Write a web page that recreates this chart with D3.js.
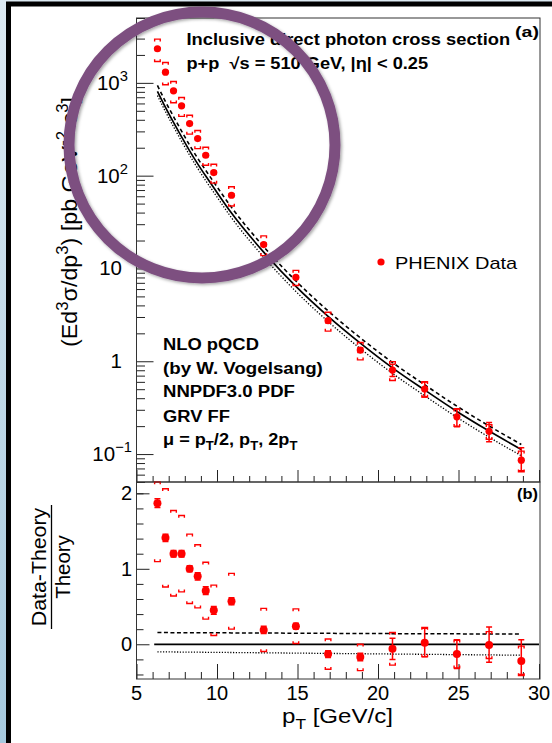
<!DOCTYPE html>
<html><head><meta charset="utf-8">
<script src="https://cdn.jsdelivr.net/npm/d3@7"></script>
<style>html,body{margin:0;padding:0;background:#fff;}svg{display:block;}</style>
</head><body>
<script>
// ---------- data ----------
const pT    = [6.3, 6.8, 7.3, 7.8, 8.3, 8.8, 9.3, 9.8, 10.9, 12.9, 14.9, 16.9, 18.9, 20.9, 22.9, 24.9, 26.9, 28.9];
const xsec  = [2330, 1305, 820, 565, 364, 251, 166, 108, 61.5, 18.1, 8.04, 2.74, 1.32, 0.805, 0.502, 0.252, 0.176, 0.086];
const ratio = [1.87, 1.41, 1.20, 1.20, 1.00, 0.90, 0.71, 0.45, 0.57, 0.19, 0.24, -0.13, -0.17, -0.06, 0.02, -0.13, -0.01, -0.22];
// relative uncertainties
const statUp = [0.02,0.02,0.02,0.02,0.02,0.025,0.03,0.035,0.03,0.04,0.03,0.05,0.06,0.15,0.19,0.22,0.24,0.36];
const statDn = [0.02,0.02,0.02,0.02,0.02,0.025,0.03,0.035,0.03,0.04,0.03,0.05,0.06,0.15,0.18,0.22,0.23,0.23];
const sysUp  = [0.27,0.27,0.26,0.23,0.23,0.22,0.22,0.23,0.235,0.24,0.185,0.23,0.205,0.23,0.20,0.21,0.18,0.25];
const sysDn  = [0.27,0.27,0.255,0.23,0.23,0.22,0.22,0.23,0.235,0.24,0.185,0.23,0.215,0.23,0.18,0.21,0.18,0.25];
// NLO pQCD theory (mu = pT central, pT/2 dashed, 2pT dotted)
const thCentral = [812, 545, 375, 262, 185, 134, 99, 74, 39.5, 15.0, 6.4, 3.05, 1.57, 0.85, 0.49, 0.288, 0.177, 0.112];
const thHigh    = [938, 629, 433, 302, 213, 154, 114, 85.2, 45.5, 17.2, 7.34, 3.49, 1.79, 0.97, 0.558, 0.328, 0.201, 0.127];
const thLow     = [731, 490, 337, 235, 166, 120, 88.5, 66.1, 35.2, 13.3, 5.65, 2.68, 1.37, 0.74, 0.425, 0.249, 0.152, 0.096];
const rHigh = [0.155,0.155,0.154,0.154,0.153,0.153,0.152,0.152,0.151,0.149,0.147,0.145,0.143,0.141,0.139,0.138,0.137,0.136];
const rLow  = [-0.100,-0.101,-0.102,-0.103,-0.104,-0.105,-0.106,-0.107,-0.109,-0.113,-0.117,-0.121,-0.125,-0.129,-0.133,-0.137,-0.141,-0.145];
const zeroLine = [6.1, 30];
// ticks
const xMajor = [5, 10, 15, 20, 25, 30];
const xMinor = d3.range(5, 31, 1);
const yTopMajor = [0.1, 1, 10, 100, 1000];
const yTopLabels = [["10", "\u22121"], ["1", ""], ["10", ""], ["10", "2"], ["10", "3"]];
const yBotMajor = [0, 1, 2];
const yBotMinor = [-0.4, -0.2, 0.2, 0.4, 0.6, 0.8, 1.2, 1.4, 1.6, 1.8, 2.0];

// ---------- layout ----------
const W = 552, H = 743;
const L = 136.5, R = 540, T1 = 18, B1 = 482, B2 = 679;
const FONT = "'Liberation Sans', Arial, Helvetica, sans-serif";
const RED = "#ff0000";

const svg = d3.select("body").append("svg").attr("width", W).attr("height", H)
  .style("font-family", FONT);

const defs = svg.append("defs");
const grad = defs.append("linearGradient").attr("id", "bg").attr("x1", 0).attr("y1", 0).attr("x2", 0).attr("y2", 1);
grad.append("stop").attr("offset", "0%").attr("stop-color", "#dce9f2");
grad.append("stop").attr("offset", "100%").attr("stop-color", "#a6c9de");
const sh = defs.append("filter").attr("id", "shadow").attr("x", "-20%").attr("y", "-20%").attr("width", "140%").attr("height", "140%");
sh.append("feDropShadow").attr("dx", 1.5).attr("dy", 1.5).attr("stdDeviation", 1.5).attr("flood-color", "#000").attr("flood-opacity", 0.35);
defs.append("clipPath").attr("id", "clipTop").append("rect").attr("x", L).attr("y", T1).attr("width", R - L).attr("height", B1 - T1);
defs.append("clipPath").attr("id", "clipBot").append("rect").attr("x", L).attr("y", B1).attr("width", R - L).attr("height", B2 - B1);

// background frame
svg.append("rect").attr("x", 0).attr("y", 0).attr("width", W).attr("height", H).attr("fill", "url(#bg)");
svg.append("rect").attr("x", 6).attr("y", 1.5).attr("width", W - 6).attr("height", H).attr("fill", "#000");
svg.append("rect").attr("x", 11).attr("y", 6.5).attr("width", W - 11).attr("height", H).attr("fill", "#fff");

// ---------- scales ----------
const x = d3.scaleLinear().domain([5, 30]).range([L, R - 1]);
const yT = d3.scaleLog().domain([0.05, 5000]).range([B1, T1]);
const yB = d3.scaleLinear().domain([-0.46, 2.15]).range([B2, B1]);

// ---------- text helpers ----------
function rich(parent, parts, size, weight, anchor) {
  const t = parent.append("text").attr("font-size", size).attr("font-weight", weight || "normal")
    .attr("text-anchor", anchor || "start").attr("fill", "#000").attr("xml:space", "preserve");
  let shift = 0;
  parts.forEach(p => {
    const s = p[0], k = p[1] || "n";
    if (!s) return;
    const target = k === "sup" ? -0.42 * size : k === "sub" ? 0.32 * size : 0;
    t.append("tspan").attr("dy", (target - shift).toFixed(2))
      .attr("font-size", k === "n" ? size : 0.72 * size).text(s);
    shift = target;
  });
  return t;
}
function place(parts, xx, yy, size, weight, anchor, width, rot) {
  const g = svg.append("g").attr("transform", `translate(${xx},${yy})` + (rot ? ` rotate(${rot})` : ""));
  const t = rich(g, parts, size, weight, anchor);
  if (width) {
    const w = t.node().getBBox().width;
    t.attr("transform", `scale(${width / w},1)`);
  }
  return t;
}

// ---------- top panel ----------
const gT = svg.append("g");
gT.append("g").attr("transform", `translate(${L},0)`)
  .call(d3.axisLeft(yT).tickValues(yTopMajor).tickSize(-17).tickFormat(""))
  .call(a => a.select(".domain").remove());
const yTopMinor = [];
[0.01, 0.1, 1, 10, 100, 1000].forEach(d => { for (let k = 2; k <= 9; k++) { const v = d * k; if (v >= 0.05 && v <= 5000) yTopMinor.push(v); } });
gT.append("g").attr("transform", `translate(${L},0)`)
  .call(d3.axisLeft(yT).tickValues(yTopMinor).tickSize(-8.5).tickFormat(""))
  .call(a => a.select(".domain").remove());
gT.append("g").attr("transform", `translate(0,${B1})`)
  .call(d3.axisBottom(x).tickValues(xMajor).tickSize(-12).tickFormat(""))
  .call(a => a.select(".domain").remove());
gT.append("g").attr("transform", `translate(0,${B1})`)
  .call(d3.axisBottom(x).tickValues(xMinor.filter(v => v % 5)).tickSize(-6).tickFormat(""))
  .call(a => a.select(".domain").remove());
gT.selectAll(".tick line").attr("stroke", "#222").attr("stroke-width", 1);

yTopMajor.forEach((v, i) => {
  const lab = yTopLabels[i];
  const parts = [[lab[0], "n"]];
  if (lab[1]) parts.push([lab[1], "sup"]);
  place(parts, lab[1] ? (lab[1].length > 1 ? 132 : 128) : 122, yT(v) + 7, 20.5, "normal", "end");
});

const line = (vals) => d3.line().x((d, i) => x(pT[i])).y(d => yT(d)).curve(d3.curveMonotoneX)(vals);
const cT = gT.append("g").attr("clip-path", "url(#clipTop)");
cT.append("path").attr("d", line(thHigh)).attr("fill", "none").attr("stroke", "#000").attr("stroke-width", 1.6).attr("stroke-dasharray", "4,3");
cT.append("path").attr("d", line(thLow)).attr("fill", "none").attr("stroke", "#000").attr("stroke-width", 1.3).attr("stroke-dasharray", "1.3,1.7");
cT.append("path").attr("d", line(thCentral)).attr("fill", "none").attr("stroke", "#000").attr("stroke-width", 1.7);

function drawPoints(g, yScale, vals, upFn, dnFn, statUpFn, statDnFn, lo, hi, r) {
  const clamp = v => Math.max(lo, Math.min(hi, v));
  vals.forEach((v, i) => {
    const cx = x(pT[i]), cy = yScale(v);
    const yu = yScale(clamp(upFn(i))), yd = yScale(clamp(dnFn(i)));
    const bw = 2.8, leg = 2.3;
    g.append("path").attr("d", `M${cx - bw},${yu + leg}V${yu}H${cx + bw}V${yu + leg}M${cx - bw},${yd - leg}V${yd}H${cx + bw}V${yd - leg}`)
      .attr("fill", "none").attr("stroke", RED).attr("stroke-width", 1.4);
    const su = yScale(clamp(statUpFn(i))), sd = yScale(clamp(statDnFn(i)));
    g.append("path").attr("d", `M${cx},${su}V${sd}M${cx - 3},${su}H${cx + 3}M${cx - 3},${sd}H${cx + 3}`)
      .attr("fill", "none").attr("stroke", RED).attr("stroke-width", 1.5);
    g.append("circle").attr("cx", cx).attr("cy", cy).attr("r", r).attr("fill", RED);
  });
}
const pTg = gT.append("g");
drawPoints(pTg, yT, xsec,
  i => xsec[i] * (1 + sysUp[i]), i => xsec[i] * (1 - sysDn[i]),
  i => xsec[i] * (1 + statUp[i]), i => xsec[i] * (1 - statDn[i]), 0.05, 5000, 3.6);

gT.append("rect").attr("x", L).attr("y", T1).attr("width", R - L).attr("height", B1 - T1)
  .attr("fill", "none").attr("stroke", "#333").attr("stroke-width", 1);

// ---------- bottom panel ----------
const gB = svg.append("g");
gB.append("g").attr("transform", `translate(${L},0)`)
  .call(d3.axisLeft(yB).tickValues(yBotMajor).tickSize(-13).tickFormat(""))
  .call(a => a.select(".domain").remove());
gB.append("g").attr("transform", `translate(${L},0)`)
  .call(d3.axisLeft(yB).tickValues(yBotMinor).tickSize(-7).tickFormat(""))
  .call(a => a.select(".domain").remove());
gB.append("g").attr("transform", `translate(0,${B2})`)
  .call(d3.axisBottom(x).tickValues(xMajor).tickSize(-15).tickFormat(""))
  .call(a => a.select(".domain").remove());
gB.append("g").attr("transform", `translate(0,${B2})`)
  .call(d3.axisBottom(x).tickValues(xMinor.filter(v => v % 5)).tickSize(-7).tickFormat(""))
  .call(a => a.select(".domain").remove());
gB.selectAll(".tick line").attr("stroke", "#222").attr("stroke-width", 1);

yBotMajor.forEach(v => place([[String(v), "n"]], 132, yB(v) + 7, 20, "normal", "end"));
xMajor.forEach(v => place([[String(v), "n"]], x(v), 700, 20, "normal", "middle"));

const cB = gB.append("g").attr("clip-path", "url(#clipBot)");
const rline = (vals) => d3.line().x((d, i) => x(pT[i])).y(d => yB(d))(vals);
cB.append("path").attr("d", rline(rHigh)).attr("fill", "none").attr("stroke", "#000").attr("stroke-width", 1.5).attr("stroke-dasharray", "4,2.5");
cB.append("path").attr("d", rline(rLow)).attr("fill", "none").attr("stroke", "#000").attr("stroke-width", 1.3).attr("stroke-dasharray", "1.2,1.6");
cB.append("line").attr("x1", x(zeroLine[0])).attr("x2", x(zeroLine[1])).attr("y1", yB(0)).attr("y2", yB(0))
  .attr("stroke", "#000").attr("stroke-width", 1.7);

const pBg = gB.append("g");
drawPoints(pBg, yB, ratio,
  i => ratio[i] + (1 + ratio[i]) * sysUp[i], i => ratio[i] - (1 + ratio[i]) * sysDn[i],
  i => ratio[i] + (1 + ratio[i]) * statUp[i], i => ratio[i] - (1 + ratio[i]) * statDn[i], -0.46, 2.15, 4);

gB.append("rect").attr("x", L).attr("y", B1).attr("width", R - L).attr("height", B2 - B1)
  .attr("fill", "none").attr("stroke", "#333").attr("stroke-width", 1);

// ---------- texts ----------
place([["Inclusive direct photon cross section"]], 186.5, 44.5, 16, "bold", "start", 324);
place([["(a)"]], 515, 37, 14, "bold", "start", 24);
place([["p+p\u00a0\u00a0\u221As = 510 GeV, |\u03b7| < 0.25"]], 186.5, 68.5, 16, "bold", "start", 242);

svg.append("circle").attr("cx", 381).attr("cy", 262).attr("r", 3.6).attr("fill", RED);
place([["PHENIX Data"]], 395, 268.5, 17, "normal", "start", 123);

place([["NLO pQCD"]], 163, 350, 17, "bold", "start", 96);
place([["(by W. Vogelsang)"]], 163, 373.5, 17, "bold", "start", 160);
place([["NNPDF3.0 PDF"]], 163, 397, 17, "bold", "start", 132);
place([["GRV FF"]], 163, 421.5, 17, "bold", "start", 67);
place([["\u03bc = p"], ["T", "sub"], ["/2, p"], ["T", "sub"], [", 2p"], ["T", "sub"]], 163, 445, 17, "bold", "start", 135);
place([["(b)"]], 517, 499, 14, "bold", "start", 21);

place([["(Ed"], ["3", "sup"], ["\u03c3/dp"], ["3", "sup"], [") [pb GeV"], ["-2", "sup"], [" c"], ["3", "sup"], ["]"]],
  77, 222, 22, "normal", "middle", 250, -90);
place([["Data-Theory"]], 46, 567, 21, "normal", "middle", 119, -90);
svg.append("line").attr("x1", 51.5).attr("x2", 51.5).attr("y1", 505).attr("y2", 629).attr("stroke", "#000").attr("stroke-width", 1.3);
place([["Theory"]], 70, 567, 21, "normal", "middle", 64, -90);
place([["p"], ["T", "sub"], [" [GeV/c]"]], 282, 723, 20, "normal", "start", 111);

// ---------- annotation circle ----------
svg.append("circle").attr("cx", 202).attr("cy", 145).attr("r", 133)
  .attr("fill", "none").attr("stroke", "#7d5080").attr("stroke-width", 11).attr("filter", "url(#shadow)");
</script>
</body></html>
